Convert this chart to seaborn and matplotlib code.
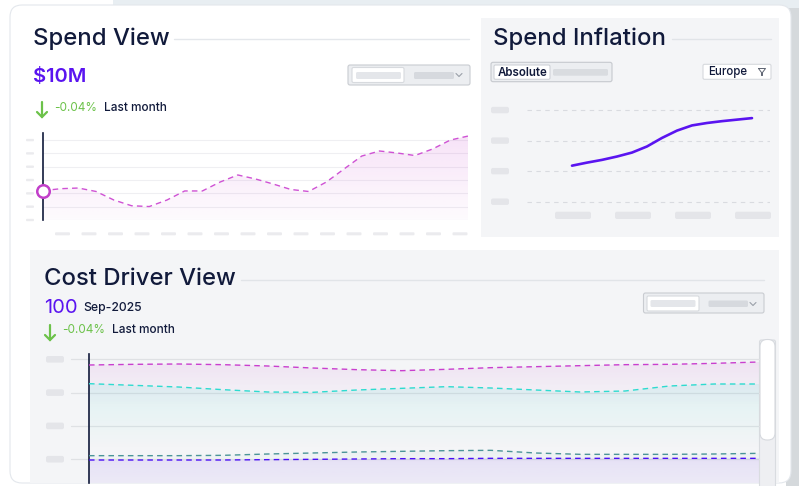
import numpy as np
import matplotlib
matplotlib.use('Agg')
import matplotlib.pyplot as plt
from matplotlib.patches import FancyBboxPatch, Rectangle, Polygon
from matplotlib.colors import to_rgb
import seaborn as sns

# ---- data ----
# Spend View: spend index per period
spend_values = [2.20, 2.35, 2.40, 2.14, 1.50, 1.07, 1.01, 1.50, 2.18, 2.18, 2.85, 3.38, 3.08,
                2.70, 2.29, 2.14, 2.85, 3.83, 4.80, 5.18, 5.03, 4.84, 5.33, 6.00, 6.30]
spend_headline = "$10M"
change_text = "-0.04%"
change_label = "Last month"

# Spend Inflation
inflation_x = [0, 0.25, 0.5, 0.75, 1.0, 1.25, 1.5, 1.75, 2.0, 2.25, 2.5, 2.75, 3.0]
inflation_values = [1.18, 1.28, 1.37, 1.48, 1.61, 1.81, 2.09, 2.33, 2.50, 2.58, 2.64, 2.69, 2.74]
inflation_toggle = "Absolute"
inflation_region = "Europe"

# Cost Driver View: four drivers
driver_magenta = [2.83, 2.85, 2.86, 2.84, 2.80, 2.74, 2.69, 2.66, 2.70, 2.75, 2.78, 2.81,
                  2.84, 2.85, 2.88, 2.92]
driver_cyan = [2.27, 2.22, 2.17, 2.09, 2.02, 2.01, 2.08, 2.13, 2.18, 2.14, 2.08, 2.02,
               2.05, 2.20, 2.26, 2.26]
driver_teal = [0.11, 0.11, 0.11, 0.12, 0.16, 0.19, 0.22, 0.24, 0.26, 0.27, 0.19, 0.15,
               0.15, 0.15, 0.16, 0.18]
driver_purple = [-0.02, -0.02, -0.02, -0.02, -0.01, 0.00, 0.01, 0.02, 0.02, 0.03, 0.03, 0.03,
                 0.03, 0.03, 0.03, 0.03]
driver_value = "100"
driver_period = "Sep-2025"

W, H = 799, 486
NAVY = '#111a3b'
PURPLE = '#5a14f0'
MAGENTA = '#c940cd'
GREEN = '#6cc24a'
PANEL = '#f4f5f7'

sns.set_theme(style='white')
plt.rcParams['font.family'] = ['Inter', 'DejaVu Sans']

fig = plt.figure(figsize=(W / 100, H / 100), dpi=100)
fig.patch.set_facecolor('white')

bg = fig.add_axes([0, 0, 1, 1])
bg.set_xlim(0, W)
bg.set_ylim(H, 0)
bg.axis('off')


def px_axes(x0, y0, x1, y1):
    ax = fig.add_axes([x0 / W, 1 - y1 / H, (x1 - x0) / W, (y1 - y0) / H])
    ax.set_facecolor('none')
    return ax


def box(x0, y0, x1, y1, face, edge='none', r=2, lw=0.8, z=1):
    bg.add_patch(FancyBboxPatch((x0, y0), x1 - x0, y1 - y0,
                                boxstyle=f"round,pad=0,rounding_size={r}",
                                facecolor=face, edgecolor=edge, lw=lw, zorder=z))


def chevron(x, y, color='#9aa0a9'):
    bg.plot([x - 3, x, x + 3], [y - 1.5, y + 1.5, y - 1.5], color=color, lw=0.8, zorder=4)


def down_arrow(x, y0, y1):
    bg.plot([x, x], [y0, y1], color=GREEN, lw=1.6, solid_capstyle='round', zorder=4)
    bg.plot([x - 5, x, x + 5], [y1 - 5, y1, y1 - 5], color=GREEN, lw=1.6,
            solid_capstyle='round', solid_joinstyle='miter', zorder=4)


def gradient_fill(ax, x, y, color, a0, a1, y_end, z=1):
    x = np.asarray(x, float)
    y = np.asarray(y, float)
    rgba = np.zeros((256, 1, 4))
    rgba[:, :, :3] = to_rgb(color)
    rgba[:, 0, 3] = np.linspace(a0, a1, 256)
    im = ax.imshow(rgba, aspect='auto', origin='upper', interpolation='bilinear',
                   extent=[x.min(), x.max(), y_end, y.max()], zorder=z)
    verts = np.column_stack([np.r_[x, x[::-1]], np.r_[y, np.full(len(x), y_end)]])
    clip = Polygon(verts, closed=True, facecolor='none', edgecolor='none')
    ax.add_patch(clip)
    im.set_clip_path(clip)


# ---- page background, card and panels ----
bg.add_patch(Rectangle((113, 0), W - 113, 8, facecolor='#e8eef2', lw=0, zorder=0))
bg.add_patch(Rectangle((786, 0), 13, H, facecolor='#d5d9dc', lw=0, zorder=0))
bg.add_patch(Rectangle((786, 0), 13, 8, facecolor='#e8eef2', lw=0, zorder=0))
box(10, 5, 791, 483, 'white', '#e3e7ec', r=12, lw=0.8, z=0.5)
bg.add_patch(Rectangle((481, 18), 298, 219, facecolor=PANEL, lw=0, zorder=0.6))
bg.add_patch(Rectangle((30, 250), 749, 233, facecolor=PANEL, lw=0, zorder=0.6))

# ---- Spend View header ----
bg.text(33, 45, "Spend View", fontsize=17.2, color=NAVY, fontweight='medium', va='baseline')
bg.plot([174, 469], [39.5, 39.5], color='#e4e7eb', lw=1, zorder=1)
bg.text(33, 82.5, spend_headline, fontsize=14.5, color=PURPLE, fontweight='semibold', va='baseline')
down_arrow(42, 102, 117)
bg.text(54, 111, change_text, fontsize=8.5, color=GREEN, va='baseline')
bg.text(104, 111, change_label, fontsize=8.5, color=NAVY, fontweight='medium', va='baseline')
box(348, 65, 470, 85, '#eceef1', '#c9ccd1', r=2)
box(352, 67.5, 404, 82.5, 'white', '#d7dade', r=1.5, z=2)
box(356, 72, 401, 79, '#e4e6ea', r=1.5, z=3)
box(414, 72, 454, 79, '#d6d9de', r=1.5, z=3)
chevron(459, 75)

# Spend View chart
ax1 = px_axes(43, 133, 468, 220)
x1 = np.arange(len(spend_values))
gradient_fill(ax1, x1, spend_values, MAGENTA, 0.15, 0.02, 0, z=1)
sns.lineplot(x=x1, y=spend_values, ax=ax1, color='#cf52d4', lw=1.0,
             linestyle=(0, (4, 3)), zorder=3)
ax1.plot(x1[0], spend_values[0], 'o', ms=9, mfc='white', mec='#c23fca', mew=1.8,
         clip_on=False, zorder=5)
ax1.set_xlim(0, len(spend_values) - 1)
ax1.set_ylim(0, 6.53)
ax1.set_yticks(range(7))
ax1.grid(axis='y', color='#efeff2', lw=0.8)
ax1.set_xticks([])
ax1.tick_params(length=0, labelleft=False, labelbottom=False)
for s in ['top', 'right', 'bottom']:
    ax1.spines[s].set_visible(False)
ax1.spines['left'].set_color(NAVY)
ax1.spines['left'].set_linewidth(1.2)
for v in range(7):
    yp = 220 - v * (220 - 133) / 6.53
    box(26, yp - 1.2, 34, yp + 1.2, '#ebebee', r=1, z=1)
for k in range(16):
    xs = 55 + k * 26.5
    box(xs, 232.3, xs + 15, 235.3, '#ebebee', r=1, z=1)

# ---- Spend Inflation ----
bg.text(493, 45, "Spend Inflation", fontsize=17.2, color=NAVY, fontweight='medium', va='baseline')
bg.plot([672, 771], [39.5, 39.5], color='#e1e4e8', lw=1, zorder=1)
box(491, 62.3, 612, 81.7, '#eceef1', '#c6c9ce', r=2)
box(494, 65, 550, 79.3, 'white', '#d0d3d8', r=1.5, z=2)
bg.text(497.5, 72.5, inflation_toggle, fontsize=8.3, color=NAVY, fontweight='semibold',
        va='center', zorder=3)
box(553, 69, 608, 75.7, '#d9dce0', r=1.5, z=3)
box(703, 64.3, 771, 79.3, 'white', '#d6d9dd', r=1.5, z=2)
bg.text(708, 72.3, inflation_region, fontsize=8.3, color=NAVY, fontweight='medium',
        va='center', zorder=3)
bg.plot([758.5, 765.5, 762.5, 762.5, 761.5, 761.5, 758.5],
        [68.5, 68.5, 72.5, 75.5, 75.5, 72.5, 68.5], color='#5d6472', lw=0.7, zorder=3)

ax2 = px_axes(527, 105, 770, 205)
sns.lineplot(x=inflation_x, y=inflation_values, ax=ax2, color=PURPLE, lw=1.9, zorder=3)
for v in range(4):
    ax2.axhline(v, color='#d9dbe0', lw=0.8, linestyle=(0, (4, 4)), zorder=1)
ax2.set_xlim(-0.75, 3.3)
ax2.set_ylim(-0.11, 3.17)
ax2.axis('off')
for v in range(4):
    yp = 201.7 - v * 30.55
    box(491, yp - 3.2, 509, yp + 3.2, '#e4e5e9', r=2, z=1)
for k in range(4):
    xc = 573 + k * 60
    box(xc - 18, 211.7, xc + 18, 219, '#e4e5e9', r=2, z=1)

# ---- Cost Driver View ----
bg.text(44, 285, "Cost Driver View", fontsize=17.2, color=NAVY, fontweight='medium', va='baseline')
bg.plot([241, 764], [280, 280], color='#e1e4e8', lw=1, zorder=1)
bg.text(44, 313, driver_value, fontsize=14.5, color=PURPLE, va='baseline')
bg.text(83, 311, driver_period, fontsize=8.8, color=NAVY, fontweight='medium', va='baseline')
down_arrow(50, 325, 340)
bg.text(62, 332.5, change_text, fontsize=8.5, color=GREEN, va='baseline')
bg.text(112, 332.5, change_label, fontsize=8.5, color=NAVY, fontweight='medium', va='baseline')
box(643.5, 293, 764, 313, '#eceef1', '#c9ccd1', r=2)
box(647, 296, 699, 311, 'white', '#d7dade', r=1.5, z=2)
box(650.5, 300, 695.5, 307, '#e4e6ea', r=1.5, z=3)
box(708.5, 300.5, 748, 307, '#d6d9de', r=1.5, z=3)
chevron(753, 304)

ax3 = px_axes(89, 354, 759, 483)
x3 = np.arange(len(driver_magenta))
y_bottom = -0.71
gradient_fill(ax3, x3, driver_magenta, MAGENTA, 0.10, 0.0, 1.6, z=1)
gradient_fill(ax3, x3, driver_cyan, '#2fd8cc', 0.11, 0.0, 0.3, z=1.1)
gradient_fill(ax3, x3, driver_teal, '#4a9296', 0.06, 0.0, -0.1, z=1.2)
gradient_fill(ax3, x3, driver_purple, PURPLE, 0.09, 0.05, y_bottom, z=1.3)
driver_styles = [(driver_magenta, '#c93fce'), (driver_cyan, '#2edbd0'),
                 (driver_teal, '#4b9498'), (driver_purple, '#4a10f5')]
for vals, col in driver_styles:
    sns.lineplot(x=x3, y=vals, ax=ax3, color=col, lw=1.0, linestyle=(0, (4, 3)), zorder=3)
for v in range(4):
    ax3.axhline(v, xmin=-0.027, xmax=1, color='#dfe1e4', lw=0.9, clip_on=False, zorder=0.5)
    yp = 459.2 - v * 33.3
    box(46, yp - 3.3, 64, yp + 3.3, '#e4e5e9', r=2, z=1)
ax3.set_xlim(0, len(driver_magenta) - 1)
ax3.set_ylim(y_bottom, 3.16)
ax3.set_xticks([])
ax3.set_yticks([])
for s in ['top', 'right', 'bottom']:
    ax3.spines[s].set_visible(False)
ax3.spines['left'].set_color(NAVY)
ax3.spines['left'].set_linewidth(1.2)

# scrollbar
box(759.5, 340, 775.5, 490, '#eeeff2', '#d9dce0', r=2, z=2)
box(760, 339.5, 775, 440, 'white', '#d6d9de', r=7, z=3)

fig.savefig('out.png', dpi=100, facecolor=fig.get_facecolor())
